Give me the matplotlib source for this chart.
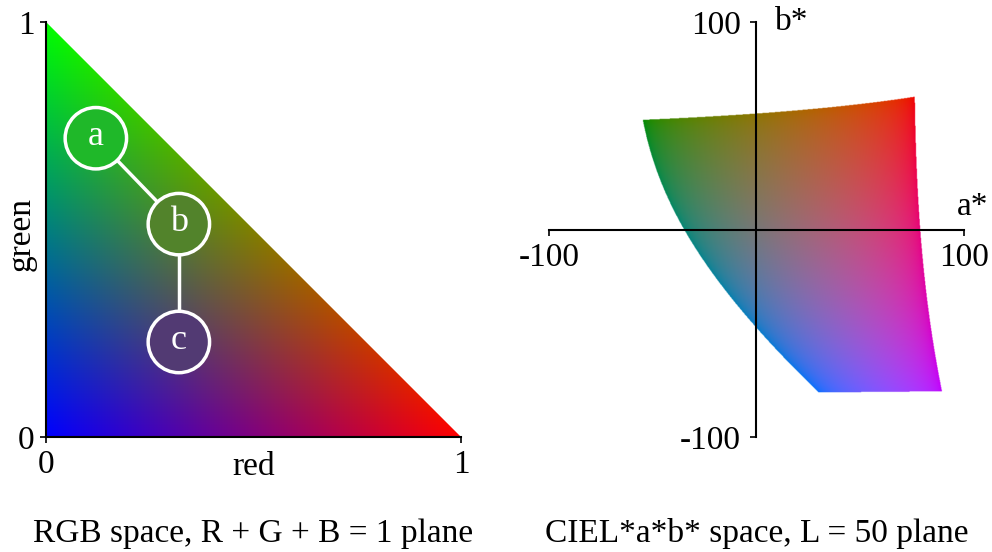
import numpy as np
import matplotlib.pyplot as plt
from matplotlib.patches import Circle, Polygon

plt.rcParams['font.family'] = ['Liberation Serif', 'DejaVu Serif']
plt.rcParams['font.size'] = 24

# marked colours on the r + g + b = 1 plane
point_names = ['a', 'b', 'c']
point_red = [0.12, 0.32, 0.32]
point_green = [0.72, 0.513, 0.229]
links = [(0, 1), (1, 2)]

rgb_ticks = [0, 1]
lab_ticks = [-100, 100]
lightness = 50


def lab_to_srgb(L, a, b):
    # CIE L*a*b* (D65) -> linear sRGB
    fy = (L + 16) / 116.0
    fx = fy + a / 500.0
    fz = fy - b / 200.0
    d = 6 / 29.0

    def finv(t):
        return np.where(t > d, t ** 3, 3 * d * d * (t - 4 / 29.0))

    X = 0.95047 * finv(fx)
    Y = 1.00000 * finv(fy)
    Z = 1.08883 * finv(fz)
    r = 3.2406 * X - 1.5372 * Y - 0.4986 * Z
    g = -0.9689 * X + 1.8758 * Y + 0.0415 * Z
    bb = 0.0557 * X - 0.2040 * Y + 1.0570 * Z
    return np.stack([r, g, bb], axis=-1)


def gamma(c):
    c = np.clip(c, 0, 1)
    return np.where(c <= 0.0031308, 12.92 * c, 1.055 * c ** (1 / 2.4) - 0.055)


fig = plt.figure(figsize=(9.92, 5.52), dpi=100)

# ---- left: rgb triangle
ax1 = fig.add_axes([0.0454, 0.2083, 0.4204, 0.7518])
n = 700
rr, gg = np.meshgrid(np.linspace(0, 1, n), np.linspace(0, 1, n))
tri = np.stack([rr, gg, np.clip(1 - rr - gg, 0, 1)], axis=-1)
ax1.imshow(tri, extent=(0, 1, 0, 1), origin='lower', interpolation='bilinear', zorder=0)
ax1.add_patch(Polygon([(-0.02, 1.02), (1.02, -0.02), (1.02, 1.02)], closed=True,
                      facecolor='white', edgecolor='none', zorder=1))

for i, j in links:
    ax1.plot([point_red[i], point_red[j]], [point_green[i], point_green[j]],
             color='white', lw=2.5, zorder=3)
for name, x, y in zip(point_names, point_red, point_green):
    ax1.add_patch(Circle((x, y), 0.074, facecolor=(x, y, 1 - x - y),
                         edgecolor='white', lw=2.5, zorder=4))
    ax1.text(x, y + 0.004, name, color='white', ha='center', va='center',
             fontsize=26, zorder=5)

ax1.set_xlim(0, 1)
ax1.set_ylim(0, 1)
ax1.set_xticks(rgb_ticks)
ax1.set_yticks(rgb_ticks)
ax1.set_xticklabels([str(t) for t in rgb_ticks])
ax1.set_yticklabels([str(t) for t in rgb_ticks])
ax1.spines[['top', 'right']].set_visible(False)
ax1.tick_params(axis='x', pad=5)
ax1.tick_params(axis='y', pad=4.3)
ax1.text(0.5, -0.036, 'red', transform=ax1.transAxes, ha='center', va='top')
ax1.text(-0.06, 0.49, 'green', transform=ax1.transAxes, ha='center', va='center',
         rotation=90)
ax1.text(0.5, -0.232, 'RGB space, R + G + B = 1 plane', transform=ax1.transAxes,
         ha='center', va='center')

# ---- right: CIELAB slice
ax2 = fig.add_axes([0.5524, 0.2083, 0.4204, 0.7518])
m = 900
aa, bb = np.meshgrid(np.linspace(-100, 100, m), np.linspace(-100, 100, m))
lin = lab_to_srgb(lightness, aa, bb)
inside = np.all((lin >= 0) & (lin <= 1), axis=-1)
img = np.concatenate([gamma(lin), inside[..., None].astype(float)], axis=-1)
ax2.imshow(img, extent=(-100, 100, -100, 100), origin='lower', interpolation='bilinear', zorder=0)

ax2.set_xlim(-100, 100)
ax2.set_ylim(-100, 100)
ax2.set_xticks(lab_ticks)
ax2.set_yticks(lab_ticks)
ax2.set_xticklabels([str(t) for t in lab_ticks])
ax2.set_yticklabels([str(t) for t in lab_ticks])
ax2.spines[['top', 'right']].set_visible(False)
ax2.spines['left'].set_position('zero')
ax2.spines['bottom'].set_position('zero')
ax2.tick_params(axis='x', pad=5.4)
ax2.tick_params(axis='y', pad=7)
ax2.text(104, 11, 'a*', ha='center', va='center')
ax2.text(9, 100, 'b*', ha='left', va='center')
ax2.text(0.5, -0.232, 'CIEL*a*b* space, L = 50 plane', transform=ax2.transAxes,
         ha='center', va='center')

for ax in (ax1, ax2):
    for s in ax.spines.values():
        s.set_linewidth(1.5)
        s.set_zorder(2)
    ax.tick_params(direction='out', length=4, width=1.2)
    ax.set_facecolor('none')

fig.savefig('out.png', dpi=100)
